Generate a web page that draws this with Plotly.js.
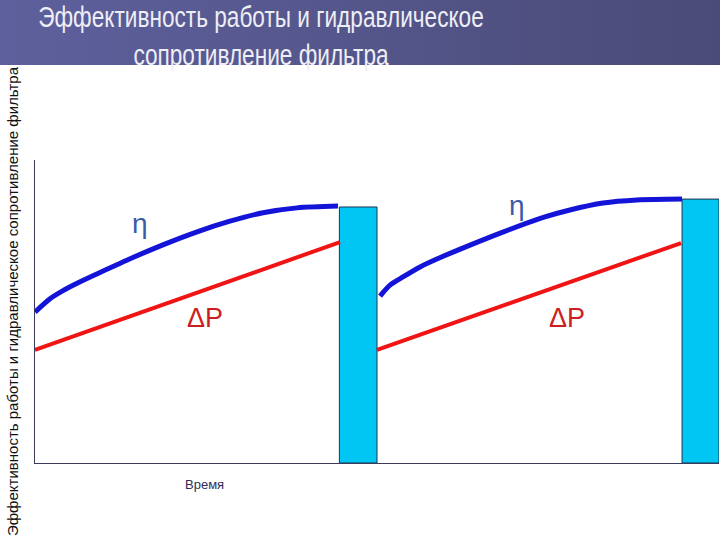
<!DOCTYPE html>
<html>
<head>
<meta charset="utf-8">
<script src="https://cdn.plot.ly/plotly-3.0.1.min.js"></script>
<style>
  html, body { margin: 0; padding: 0; background: #fff; }
  #chart { width: 720px; height: 540px; }
</style>
</head>
<body>
<div id="chart"></div>
<script>
'use strict';

// filter cycle 1: efficiency (eta) and pressure drop (dP) over time
const etaTime1 = [0, 0.44, 0.82, 1.32, 1.81, 2.78, 3.74, 4.74, 5.7, 6.67, 7.66, 8.86];
const etaVal1 = [49.8, 54.2, 56.9, 59.8, 62.4, 67.4, 72.0, 76.3, 79.8, 82.6, 84.2, 84.8];
const dpTime1 = [0, 8.92];
const dpVal1 = [37.3, 72.9];

// filter cycle 2
const etaTime2 = [10.09, 10.38, 10.76, 11.26, 11.75, 12.72, 13.68, 14.91, 15.64, 16.61, 17.6, 18.92];
const etaVal2 = [55.1, 58.7, 61.4, 64.7, 67.3, 71.9, 76.2, 81.2, 83.5, 85.8, 86.8, 87.1];
const dpTime2 = [10.0, 18.89];
const dpVal2 = [37.3, 72.6];

// regeneration periods (cyan bars)
const regenStart = [8.9, 18.92];
const regenEnd = [10.0, 20.0];
const regenTop = [84.5, 87.1];

const titleText = 'Эффективность работы и гидравлическое<br>сопротивление фильтра';
const yTitle = 'Эффективность работы и гидравлическое сопротивление фильтра';
const xTitle = 'Время';

const barX = regenStart.map((s, i) => (s + regenEnd[i]) / 2);
const barW = regenStart.map((s, i) => regenEnd[i] - s);

const BLUE = '#1414d8';
const RED = '#f01414';

var traces = [
    {
        x: barX, y: regenTop, width: barW, type: 'bar', name: 'Регенерация',
        marker: { color: '#00c6f4', line: { color: '#1e3550', width: 1 } },
        hoverinfo: 'skip'
    },
    {
        x: etaTime1, y: etaVal1, mode: 'lines', type: 'scatter', name: 'η',
        line: { color: BLUE, width: 5, shape: 'spline', smoothing: 0.8 }
    },
    {
        x: etaTime2, y: etaVal2, mode: 'lines', type: 'scatter', name: 'η',
        line: { color: BLUE, width: 5, shape: 'spline', smoothing: 0.8 }
    },
    {
        x: dpTime1, y: dpVal1, mode: 'lines', type: 'scatter', name: 'ΔP',
        line: { color: RED, width: 4 }
    },
    {
        x: dpTime2, y: dpVal2, mode: 'lines', type: 'scatter', name: 'ΔP',
        line: { color: RED, width: 4 }
    }
];

// gradient banner behind the title
const bannerSvg = '<svg xmlns="http://www.w3.org/2000/svg" width="720" height="65">' +
    '<defs><linearGradient id="g" x1="0" y1="0" x2="1" y2="0">' +
    '<stop offset="0" stop-color="#5e609d"/><stop offset="1" stop-color="#4a4b77"/>' +
    '</linearGradient></defs><rect width="720" height="65" fill="url(#g)"/></svg>';

var layout = {
    width: 720,
    height: 540,
    margin: { l: 35, r: 1, t: 160, b: 77 },
    paper_bgcolor: '#fff',
    plot_bgcolor: '#fff',
    showlegend: false,
    font: { family: '"Liberation Sans", Arial, sans-serif', color: '#000' },
    title: {
        text: titleText,
        x: 261 / 720, xanchor: 'center',
        y: 1 - 27 / 540, yanchor: 'middle', yref: 'container',
        font: { family: '"Liberation Sans", Arial, sans-serif', size: 29, color: '#eeeef6' }
    },
    xaxis: {
        range: [0, 20], showgrid: false, zeroline: false, showticklabels: false, ticks: '',
        showline: true, linecolor: '#3a3a5a', linewidth: 1, fixedrange: true
    },
    yaxis: {
        range: [0, 100], showgrid: false, zeroline: false, showticklabels: false, ticks: '',
        showline: true, linecolor: '#3a3a5a', linewidth: 1, fixedrange: true
    },
    images: [{
        source: 'data:image/svg+xml;charset=utf-8,' + encodeURIComponent(bannerSvg),
        xref: 'paper', yref: 'paper',
        x: -35 / 684, y: 463 / 303,
        sizex: 720 / 684, sizey: 65 / 303,
        xanchor: 'left', yanchor: 'top',
        sizing: 'stretch', layer: 'above'
    }],
    annotations: [
        { x: 3.07, y: 79.2, text: 'η', showarrow: false, font: { size: 28, color: '#3a5aa8' } },
        { x: 14.09, y: 85.1, text: 'η', showarrow: false, font: { size: 28, color: '#3a5aa8' } },
        { x: 4.97, y: 47.9, text: 'ΔP', showarrow: false, font: { size: 27, color: '#cc1f1f' } },
        { x: 15.56, y: 47.9, text: 'ΔP', showarrow: false, font: { size: 27, color: '#cc1f1f' } },
        {
            x: 4.97, y: -21 / 303, xref: 'x', yref: 'paper', xanchor: 'center', yanchor: 'middle',
            text: xTitle, showarrow: false, font: { size: 13, color: '#2e2e55' }
        },
        {
            x: -23 / 684, y: (463 - 301) / 303, xref: 'paper', yref: 'paper',
            xanchor: 'center', yanchor: 'middle', text: yTitle,
            textangle: -90, showarrow: false, font: { size: 15, color: '#111' }
        }
    ]
};

Plotly.newPlot('chart', traces, layout, { displayModeBar: false, staticPlot: true }).then(function (gd) {
    // the slide title is set in a condensed face; squeeze it around its centre
    var t = gd.querySelector('.gtitle');
    if (t) {
        var cx = 261;
        t.setAttribute('transform', 'translate(' + cx + ',0) scale(0.78,1) translate(' + (-cx) + ',0)');
    }
});
</script>
</body>
</html>
